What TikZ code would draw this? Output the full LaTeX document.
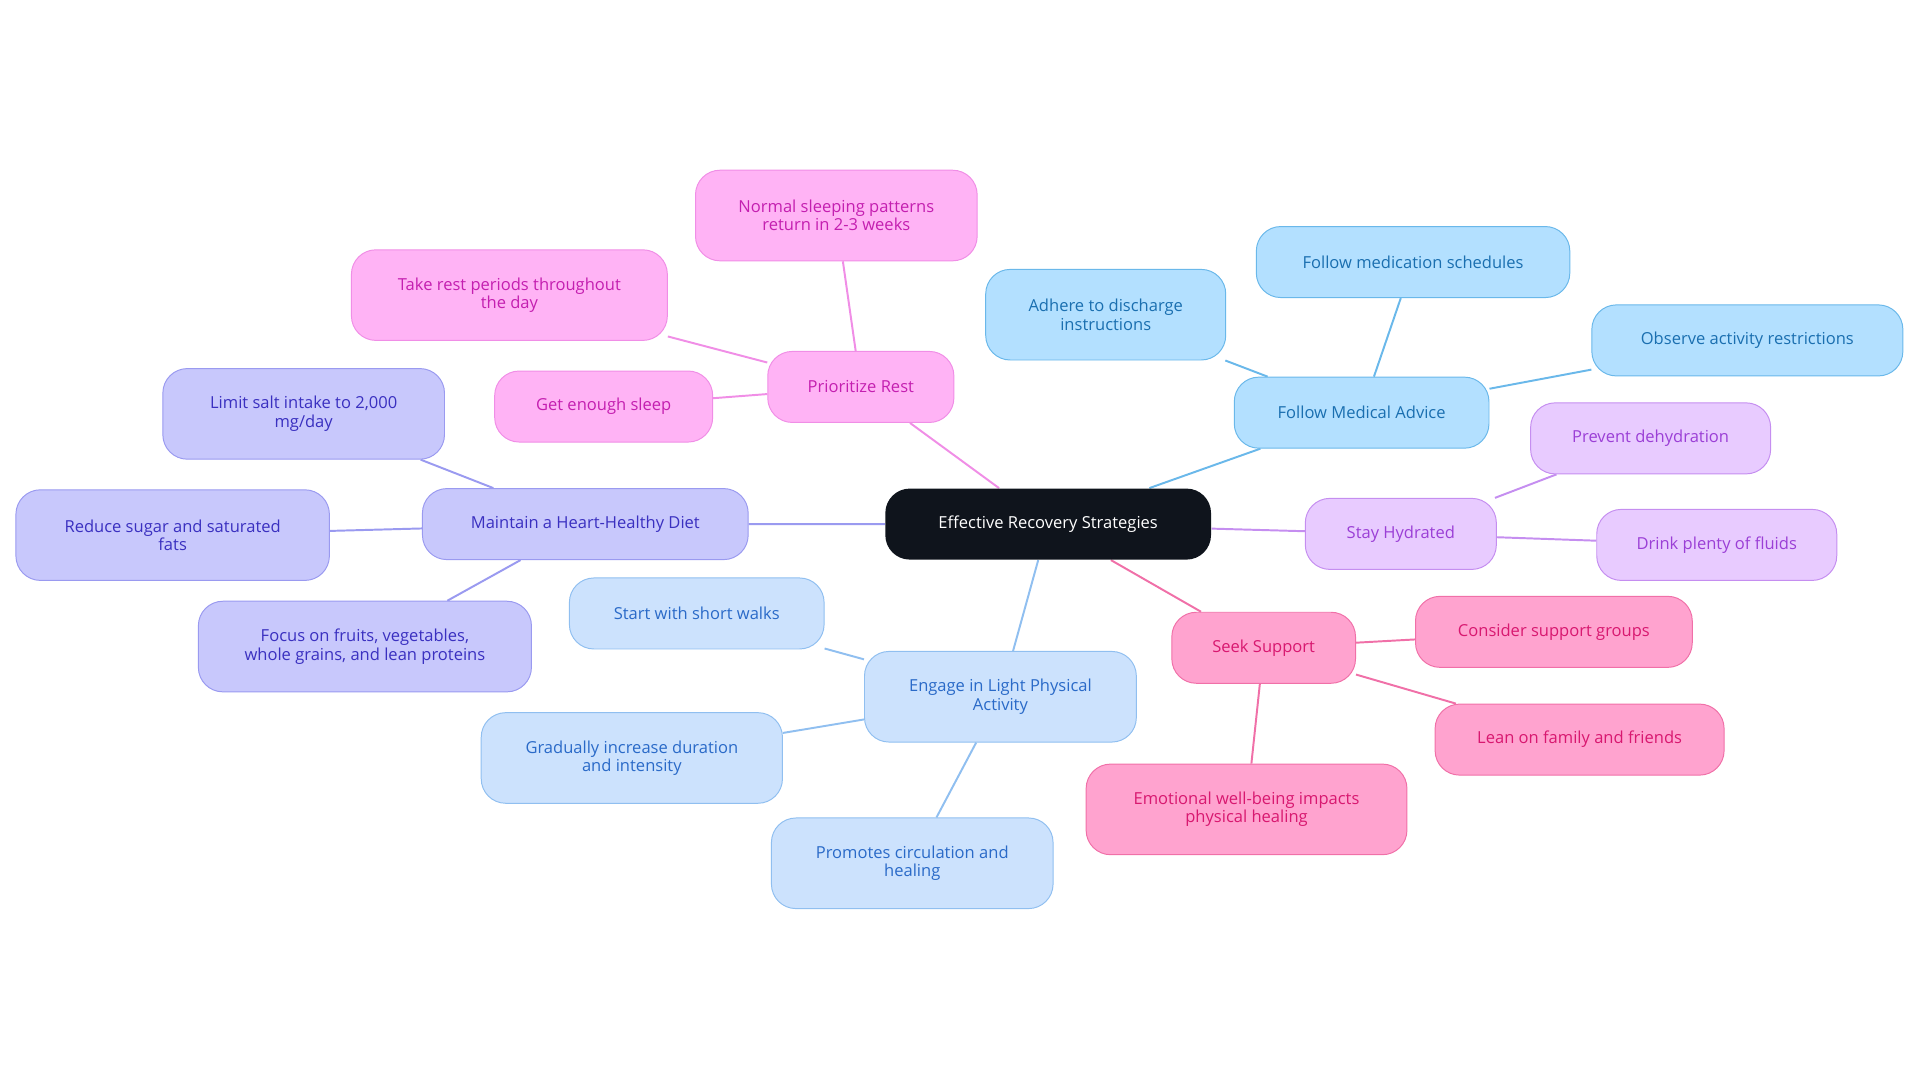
\documentclass[tikz,border=0pt]{standalone}
\usepackage{fontspec}
\setmainfont{Open Sans}
\usetikzlibrary{backgrounds}
\definecolor{cB}{HTML}{0F141C}
\definecolor{pkF}{HTML}{FFB3F5}\definecolor{pkD}{HTML}{F08EE6}\definecolor{pkT}{HTML}{C41FB0}
\definecolor{blF}{HTML}{B3E0FF}\definecolor{blD}{HTML}{6AB8EA}\definecolor{blT}{HTML}{1A6FB0}
\definecolor{puF}{HTML}{E8CBFF}\definecolor{puD}{HTML}{C58EF0}\definecolor{puT}{HTML}{9B3FD6}
\definecolor{rdF}{HTML}{FFA3CF}\definecolor{rdD}{HTML}{F070A8}\definecolor{rdT}{HTML}{D81870}
\definecolor{lbF}{HTML}{CCE2FD}\definecolor{lbD}{HTML}{90BFF0}\definecolor{lbT}{HTML}{2A6AC8}
\definecolor{lvF}{HTML}{C8C8FC}\definecolor{lvD}{HTML}{9A9AF0}\definecolor{lvT}{HTML}{3A30C0}
\tikzset{
 box/.style={rounded corners=20pt,align=center,font=\fontsize{13.5}{15}\selectfont,inner sep=0pt,line width=0.8pt},
 pk/.style={box,fill=pkF,draw=pkD,text=pkT},
 bl/.style={box,fill=blF,draw=blD,text=blT},
 pu/.style={box,fill=puF,draw=puD,text=puT},
 rd/.style={box,fill=rdF,draw=rdD,text=rdT},
 lb/.style={box,fill=lbF,draw=lbD,text=lbT},
 lv/.style={box,fill=lvF,draw=lvD,text=lvT},
 sz/.style 2 args={minimum width=#1pt,minimum height=#2pt},
 ln/.style={line width=1.6pt}
}
\begin{document}
\begin{tikzpicture}[x=1pt,y=-1pt]
\useasboundingbox (0,0) rectangle (1568,884);
\node[box,fill=cB,text=white,sz={266}{58}] (c) at (856,428) {Effective Recovery Strategies};
\node[pk,sz={152}{58}] (r) at (703,316) {Prioritize Rest};
\node[pk,sz={230}{74}] (r1) at (683,176) {Normal sleeping patterns\\return in 2-3 weeks};
\node[pk,sz={258}{74}] (r2) at (416,241) {Take rest periods throughout\\the day};
\node[pk,sz={178}{58}] (r3) at (493,332) {Get enough sleep};
\node[bl,sz={208}{58}] (m) at (1112,337) {Follow Medical Advice};
\node[bl,sz={196}{74}] (m1) at (903,257) {Adhere to discharge\\instructions};
\node[bl,sz={256}{58}] (m2) at (1154,214) {Follow medication schedules};
\node[bl,sz={254}{58}] (m3) at (1427,278) {Observe activity restrictions};
\node[pu,sz={156}{58}] (h) at (1144,436) {Stay Hydrated};
\node[pu,sz={196}{58}] (h1) at (1348,358) {Prevent dehydration};
\node[pu,sz={196}{58}] (h2) at (1402,445) {Drink plenty of fluids};
\node[rd,sz={150}{58}] (s) at (1032,529) {Seek Support};
\node[rd,sz={226}{58}] (s1) at (1269,516) {Consider support groups};
\node[rd,sz={236}{58}] (s2) at (1290,604) {Lean on family and friends};
\node[rd,sz={262}{74}] (s3) at (1018,661) {Emotional well-being impacts\\physical healing};
\node[lb,sz={222}{74}] (a) at (817,569) {Engage in Light Physical\\Activity};
\node[lb,sz={208}{58}] (a1) at (569,501) {Start with short walks};
\node[lb,sz={246}{74}] (a2) at (516,619) {Gradually increase duration\\and intensity};
\node[lb,sz={230}{74}] (a3) at (745,705) {Promotes circulation and\\healing};
\node[lv,sz={266}{58}] (d) at (478,428) {Maintain a Heart-Healthy Diet};
\node[lv,sz={230}{74}] (d1) at (248,338) {Limit salt intake to 2,000\\mg/day};
\node[lv,sz={256}{74}] (d2) at (141,437) {Reduce sugar and saturated\\fats};
\node[lv,sz={272}{74}] (d3) at (298,528) {Focus on fruits, vegetables,\\whole grains, and lean proteins};
\begin{scope}[on background layer]
\draw[ln,pkD] (c)--(r) (r)--(r1) (r)--(r2) (r)--(r3);
\draw[ln,blD] (c)--(m) (m)--(m1) (m)--(m2) (m)--(m3);
\draw[ln,puD] (c)--(h) (h)--(h1) (h)--(h2);
\draw[ln,rdD] (c)--(s) (s)--(s1) (s)--(s2) (s)--(s3);
\draw[ln,lbD] (c)--(a) (a)--(a1) (a)--(a2) (a)--(a3);
\draw[ln,lvD] (c)--(d) (d)--(d1) (d)--(d2) (d)--(d3);
\end{scope}
\end{tikzpicture}
\end{document}
